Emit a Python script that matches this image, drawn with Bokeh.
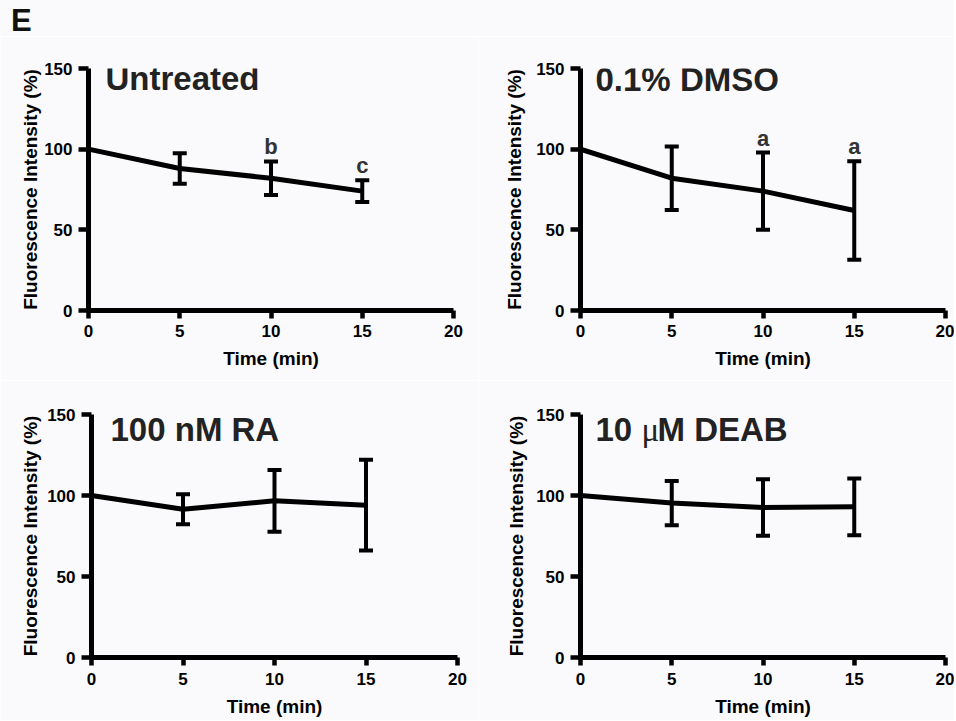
from bokeh.plotting import figure
from bokeh.models import Range1d, ColumnDataSource, Whisker, TeeHead, Label, LabelSet, Div
from bokeh.layouts import column, row
from bokeh.embed import file_html
from bokeh.resources import INLINE
from bokeh.core.properties import value

# ---------------- data ----------------
time = [0, 5, 10, 15]
x_ticks = [0, 5, 10, 15, 20]
y_ticks = [0, 50, 100, 150]

panel_letter = "E"
x_label = "Time (min)"
y_label = "Fluorescence Intensity (%)"

# titles, split into (text, font family, style) pieces
titles = [
    [("Untreated", "sans", "bold")],
    [("0.1% DMSO", "sans", "bold")],
    [("100 nM RA", "sans", "bold")],
    [("10 ", "sans", "bold"), ("\u03bc", "serif", "normal"), ("M DEAB", "sans", "bold")],
]

untreated_mean = [100, 88.0, 82.0, 74.0]
untreated_err = [0, 9.4, 10.4, 6.7]
untreated_letters = ["", "", "b", "c"]

dmso_mean = [100, 82.0, 74.0, 62.0]
dmso_err = [0, 19.7, 23.9, 30.5]
dmso_letters = ["", "", "a", "a"]

ra_mean = [100, 91.5, 96.7, 94.0]
ra_err = [0, 9.3, 19.0, 28.0]
ra_letters = ["", "", "", ""]

deab_mean = [100, 95.3, 92.6, 93.0]
deab_err = [0, 13.7, 17.5, 17.5]
deab_letters = ["", "", "", ""]

# ---------------- styling ----------------
FONT = "Liberation Sans"
SERIF = "Liberation Serif"
BG = "#fafafc"
TITLE_SIZE = 33
HEADER_H = 36


def make_panel(title_parts, mean, err, letters, width, height, b_left, b_right, b_top, b_bottom,
               title_dx, title_dy, ylab_standoff, xlab_standoff, xtick_standoff):
    p = figure(width=width, height=height, x_range=Range1d(0, 20), y_range=Range1d(0, 150),
               output_backend="svg", toolbar_location=None,
               min_border_left=b_left, min_border_right=b_right,
               min_border_top=b_top, min_border_bottom=b_bottom)
    p.background_fill_color = BG
    p.border_fill_color = BG
    p.outline_line_color = None
    p.xgrid.visible = False
    p.ygrid.visible = False

    for ax in (p.xaxis, p.yaxis):
        ax.axis_line_width = 5
        ax.axis_line_color = "black"
        ax.major_tick_line_width = 4.5
        ax.major_tick_line_color = "black"
        ax.major_tick_in = 0
        ax.minor_tick_line_color = None
        ax.major_label_text_font = FONT
        ax.major_label_text_font_style = "bold"
        ax.major_label_text_font_size = "17px"
        ax.major_label_text_color = "black"
        ax.axis_label_text_font = FONT
        ax.axis_label_text_font_style = "bold"
        ax.axis_label_text_font_size = "19px"
        ax.axis_label_text_color = "black"

    p.xaxis.ticker = x_ticks
    p.yaxis.ticker = y_ticks
    p.xaxis.major_tick_out = 8
    p.yaxis.major_tick_out = 10
    p.xaxis.major_label_standoff = xtick_standoff
    p.yaxis.major_label_standoff = 6
    p.xaxis.axis_label = x_label
    p.yaxis.axis_label = y_label
    p.xaxis.axis_label_standoff = xlab_standoff
    p.yaxis.axis_label_standoff = ylab_standoff

    # mean line
    p.line(time, mean, line_width=5, line_color="black", line_join="round")

    # error bars
    xs = [t for t, e in zip(time, err) if e > 0]
    ups = [m + e for m, e in zip(mean, err) if e > 0]
    los = [m - e for m, e in zip(mean, err) if e > 0]
    src = ColumnDataSource(dict(x=xs, upper=ups, lower=los))
    w = Whisker(base="x", upper="upper", lower="lower", source=src, dimension="height",
                line_width=4, line_color="black",
                upper_head=TeeHead(size=14, line_width=4, line_color="black"),
                lower_head=TeeHead(size=14, line_width=4, line_color="black"))
    p.add_layout(w)

    # significance letters
    lx = [t for t, l in zip(time, letters) if l]
    ly = [m + e for m, e, l in zip(mean, err, letters) if l]
    lt = [l for l in letters if l]
    if lt:
        lsrc = ColumnDataSource(dict(x=lx, y=ly, text=lt))
        p.add_layout(LabelSet(x="x", y="y", text="text", source=lsrc, y_offset=7,
                              text_align="center", text_baseline="alphabetic",
                              text_font=value(FONT), text_font_style="bold",
                              text_font_size="22px", text_color="#333333"))

    # panel title (pieces laid out left to right)
    dx = title_dx
    for txt, fam, style in title_parts:
        font = FONT if fam == "sans" else SERIF
        p.add_layout(Label(x=0, y=150, x_offset=dx, y_offset=title_dy, text=txt,
                           text_font=font, text_font_style=style,
                           text_font_size=f"{TITLE_SIZE}px",
                           text_color="#222222", text_baseline="alphabetic", text_align="left"))
        if fam == "sans":
            # approximate advance of Arial-bold digits/space used in the split title
            dx += round(sum({"1": 0.556, "0": 0.556, " ": 0.278}.get(c, 0.6) for c in txt) * TITLE_SIZE)
        else:
            dx += round(0.5 * TITLE_SIZE)
    return p


p1 = make_panel(titles[0], untreated_mean, untreated_err, untreated_letters,
                478, 380 - HEADER_H, 88, 25, 68 - HEADER_H, 70, 17, -10, 0, 8, 6)
p2 = make_panel(titles[1], dmso_mean, dmso_err, dmso_letters,
                476, 380 - HEADER_H, 102, 9, 68 - HEADER_H, 70, 15, -11, 8, 8, 6)
p3 = make_panel(titles[2], ra_mean, ra_err, ra_letters,
                478, 340, 91, 21, 34, 63, 19, -15, 3, 8, 7)
p4 = make_panel(titles[3], deab_mean, deab_err, deab_letters,
                476, 340, 102, 9, 34, 63, 15, -15, 6, 8, 7)

header = Div(text=panel_letter, width=954, height=HEADER_H, margin=0,
             styles={"font-family": FONT, "font-weight": "bold", "font-size": "31px",
                     "color": "#111111", "background-color": BG,
                     "padding-left": "11px", "padding-top": "3px",
                     "line-height": "normal", "box-sizing": "border-box"})

layout = column(header, row(p1, p2), row(p3, p4), spacing=0)

open("out.html", "w").write(file_html(layout, INLINE))
